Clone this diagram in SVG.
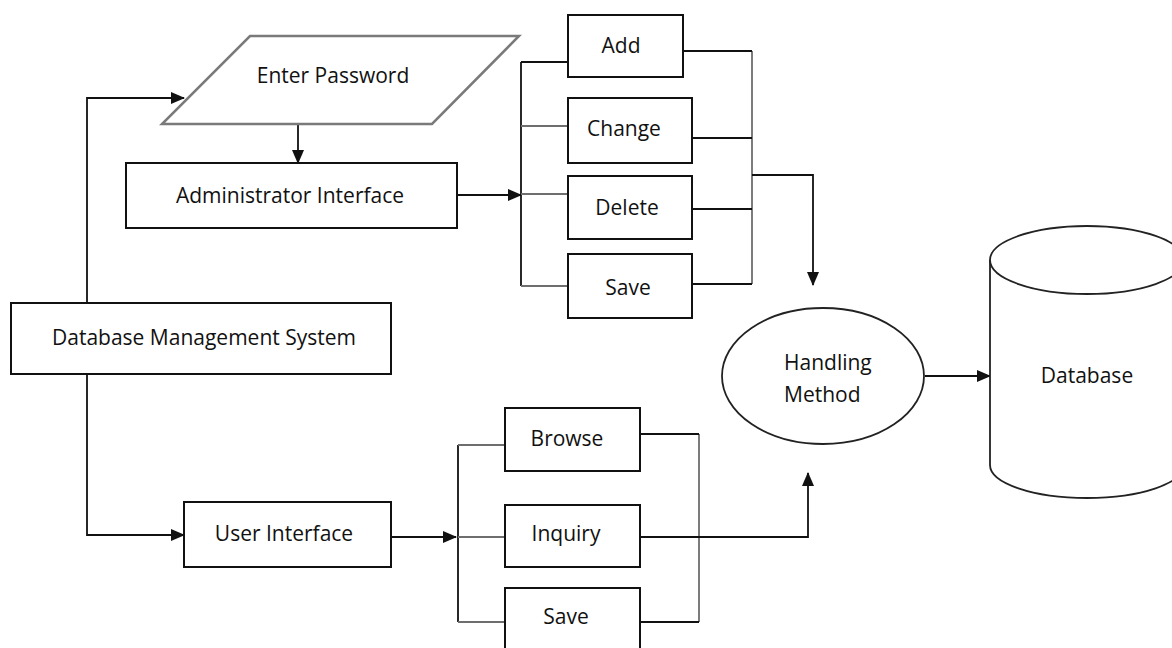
<svg xmlns="http://www.w3.org/2000/svg" width="1172" height="648" viewBox="0 0 1172 648">
  <style>
    .box { fill: #ffffff; stroke: #111111; stroke-width: 2; }
    .io { fill: #ffffff; stroke: #7a7a7a; stroke-width: 2.5; }
    .shape { fill: #ffffff; stroke: #222222; stroke-width: 1.8; }
    .label { font-family: "Open Sans", "Liberation Sans", sans-serif; font-size: 21px; fill: #111111; }
    .mid { text-anchor: middle; }
    .wire { fill: none; stroke: #111111; stroke-width: 1.8; }
    .soft { stroke: #6e6e6e; }
  </style>
  <defs>
    <marker id="head" markerUnits="userSpaceOnUse" markerWidth="14" markerHeight="12" refX="13" refY="6" orient="auto">
      <path d="M0,0 L14,6 L0,12 Z" fill="#111111"/>
    </marker>
  </defs>

  <rect width="1172" height="648" fill="#ffffff"/>

  <!-- connectors -->
  <g id="connectors">
    <!-- DBMS to password entry -->
    <path class="wire" d="M87,303 V98 H184" marker-end="url(#head)"/>
    <!-- password entry to administrator interface -->
    <path class="wire" d="M298,124 V163" marker-end="url(#head)"/>
    <!-- administrator interface to operation bus -->
    <path class="wire" d="M457,195 H521" marker-end="url(#head)"/>
    <!-- admin left bus -->
    <path class="wire" d="M521,62 V286"/>
    <path class="wire" d="M521,62 H568"/>
    <path class="wire soft" d="M521,126 H568"/>
    <path class="wire soft" d="M521,194 H568"/>
    <path class="wire soft" d="M521,286 H568"/>
    <!-- admin right bus -->
    <path class="wire soft" d="M752,51 V284"/>
    <path class="wire" d="M683,51 H752"/>
    <path class="wire" d="M692,138 H752"/>
    <path class="wire" d="M692,209 H752"/>
    <path class="wire" d="M692,284 H752"/>
    <path class="wire" d="M752,175 H813 V285" marker-end="url(#head)"/>
    <!-- DBMS to user interface -->
    <path class="wire" d="M87,374 V535 H184" marker-end="url(#head)"/>
    <!-- user interface to query bus -->
    <path class="wire" d="M391,537 H456" marker-end="url(#head)"/>
    <!-- user left bus -->
    <path class="wire" d="M458,445 V622"/>
    <path class="wire soft" d="M458,445 H505"/>
    <path class="wire soft" d="M458,537 H505"/>
    <path class="wire soft" d="M458,622 H505"/>
    <!-- user right bus -->
    <path class="wire soft" d="M699,434 V622"/>
    <path class="wire" d="M640,434 H699"/>
    <path class="wire" d="M640,622 H699"/>
    <path class="wire" d="M640,537 H808 V473" marker-end="url(#head)"/>
    <!-- handling method to database -->
    <path class="wire" d="M925,376 H990" marker-end="url(#head)"/>
  </g>

  <g id="enter-password">
    <polygon class="io" points="250,36 519,36 432,124 162,124"/>
    <text class="label mid" x="333" y="83">Enter Password</text>
  </g>

  <g id="administrator-interface">
    <rect class="box" x="126" y="163" width="331" height="65"/>
    <text class="label mid" x="290" y="203">Administrator Interface</text>
  </g>

  <g id="database-management-system">
    <rect class="box" x="11" y="303" width="380" height="71"/>
    <text class="label mid" x="204" y="345">Database Management System</text>
  </g>

  <g id="user-interface">
    <rect class="box" x="184" y="502" width="207" height="65"/>
    <text class="label mid" x="284" y="541">User Interface</text>
  </g>

  <g id="add">
    <rect class="box" x="568" y="15" width="115" height="62"/>
    <text class="label mid" x="621" y="53">Add</text>
  </g>

  <g id="change">
    <rect class="box" x="568" y="98" width="124" height="65"/>
    <text class="label mid" x="624" y="136">Change</text>
  </g>

  <g id="delete">
    <rect class="box" x="568" y="176" width="124" height="63"/>
    <text class="label mid" x="627" y="215">Delete</text>
  </g>

  <g id="save-admin">
    <rect class="box" x="568" y="254" width="124" height="64"/>
    <text class="label mid" x="628" y="295">Save</text>
  </g>

  <g id="browse">
    <rect class="box" x="505" y="408" width="135" height="63"/>
    <text class="label mid" x="567" y="446">Browse</text>
  </g>

  <g id="inquiry">
    <rect class="box" x="505" y="505" width="135" height="62"/>
    <text class="label mid" x="566" y="541">Inquiry</text>
  </g>

  <g id="save-user">
    <rect class="box" x="505" y="588" width="135" height="80"/>
    <text class="label mid" x="566" y="624">Save</text>
  </g>

  <g id="handling-method">
    <ellipse class="shape" cx="823" cy="376" rx="101" ry="68"/>
    <text class="label" x="784" y="370">Handling</text>
    <text class="label" x="784" y="402">Method</text>
  </g>

  <g id="database">
    <path class="shape" d="M990,260 V465 A97,33 0 0 0 1184,465 V260"/>
    <ellipse class="shape" cx="1087" cy="260" rx="97" ry="34"/>
    <text class="label mid" x="1087" y="383">Database</text>
  </g>
</svg>
